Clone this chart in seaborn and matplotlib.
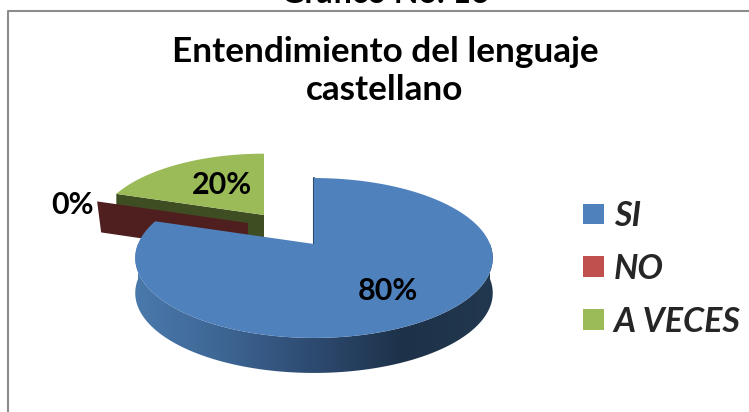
import numpy as np
import seaborn as sns
import matplotlib
matplotlib.use("Agg")
import matplotlib.pyplot as plt
from matplotlib.patches import Patch, Polygon

# --- Data ---
categories = ["SI", "NO", "A VECES"]
values = [80, 0, 20]
title = "Entendimiento del lenguaje\ncastellano"
caption = "Grafico No. 16"

# --- Colours ---
top_colors = ["#4f81bd", "#c0504d", "#9bbb59"]
wall_colors = ["#2c4a70", "#4e1f1e", "#3f4d22"]
side_blend = ["#4a79ac", "#3d6593", "#2d4a70", "#1d3249", "#22384f"]

sns.set_theme(style="white")
plt.rcParams["font.family"] = ["Lato", "DejaVu Sans"]

# --- 3D pie projection (pixel space) ---
RX, RY, PERSP = 176, 77.5, 0.175
DEPTH = 35
apex = {"SI": (314, 244), "NO": (248, 223), "A VECES": (264, 215)}
scale = {"SI": 1.0, "NO": 0.95, "A VECES": 0.93}


def rim(theta, center, k):
    t = np.radians(theta)
    d = 1 + PERSP * np.sin(t)
    return center[0] + k * RX * np.cos(t) / d, center[1] - k * RY * np.sin(t) / d


# slices run clockwise from 12 o'clock
edges = 90 - np.cumsum([0] + values) * 3.6
angles = {c: (edges[i], edges[i + 1]) for i, c in enumerate(categories)}

fig = plt.figure(figsize=(7.49, 4.12), dpi=100)
ax = fig.add_axes([0, 0, 1, 1])

# --- Blue side wall: horizontal gradient clipped to the wall shape ---
c = apex["SI"]
th = np.linspace(180, 360, 121)
xs, ys = rim(th, c, 1.0)
shades = np.array(sns.blend_palette(side_blend, 256))[:, :3][np.newaxis, :, :]
img = ax.imshow(shades, extent=(xs.min(), xs.max(), 412, 0), aspect="auto", zorder=4)
wall = Polygon(np.c_[np.r_[xs, xs[::-1]], np.r_[ys, ys[::-1] + DEPTH]], transform=ax.transData)
img.set_clip_path(wall)

ax.set_xlim(0, 749)
ax.set_ylim(412, 0)
ax.axis("off")

# --- Frame and clipped caption ---
ax.plot([7.5, 7.5, 749], [412, 10.5, 10.5], color="#8c8c8c", lw=1.5)
ax.text(385, 2.5, caption, ha="center", va="baseline", fontsize=23, fontweight="bold", color="black")
ax.text(385, 71, title, ha="center", va="center", fontsize=25.3, fontweight="bold",
        color="black", linespacing=1.2, zorder=6)

# --- Green slice ---
c = apex["A VECES"]
k = scale["A VECES"]
start, end = angles["A VECES"]
x0, y0 = rim(start, c, k)
ax.fill([x0, c[0], c[0], x0], [y0, c[1], c[1] + 24, y0 + 24], color=wall_colors[2], lw=0, zorder=1)
th = np.linspace(start, end, 40)
xs, ys = rim(th, c, k)
ax.fill(np.r_[c[0], xs], np.r_[c[1], ys], color=top_colors[2], lw=0, zorder=2)

# --- Zero slice: only its inner wall shows ---
c = apex["NO"]
k = scale["NO"]
x0, y0 = rim(angles["NO"][0], c, k)
ax.fill([x0, c[0], c[0], x0 + 4], [y0, c[1], c[1] + 31, y0 + 31], color=wall_colors[1], lw=0, zorder=3)

# --- Blue top face ---
c = apex["SI"]
start, end = angles["SI"]
th = np.linspace(start, end, 200)
xs, ys = rim(th, c, 1.0)
ax.plot([xs[0], c[0]], [ys[0], c[1]], color=wall_colors[0], lw=1.5, zorder=4)
ax.fill(np.r_[c[0], xs], np.r_[c[1], ys], color=top_colors[0], lw=0, zorder=5)

# --- Data labels ---
label_pos = {"SI": (388, 291), "NO": (72, 205), "A VECES": (222, 185)}
for cat, v in zip(categories, values):
    ax.text(*label_pos[cat], f"{v}%", ha="center", va="center", fontsize=22,
            fontweight="bold", color="black", zorder=7)

# --- Legend ---
handles = [Patch(facecolor=col, edgecolor="none", label=cat) for cat, col in zip(categories, top_colors)]
ax.legend(handles=handles, loc="upper left", bbox_to_anchor=(583 / 749, 1 - 200 / 412), frameon=False,
          prop={"size": 24.5, "weight": "bold", "style": "italic"},
          handlelength=0.62, handleheight=0.56, handletextpad=0.28, labelspacing=0.61,
          borderpad=0, borderaxespad=0)

fig.savefig("out.png", dpi=100)
plt.close(fig)
